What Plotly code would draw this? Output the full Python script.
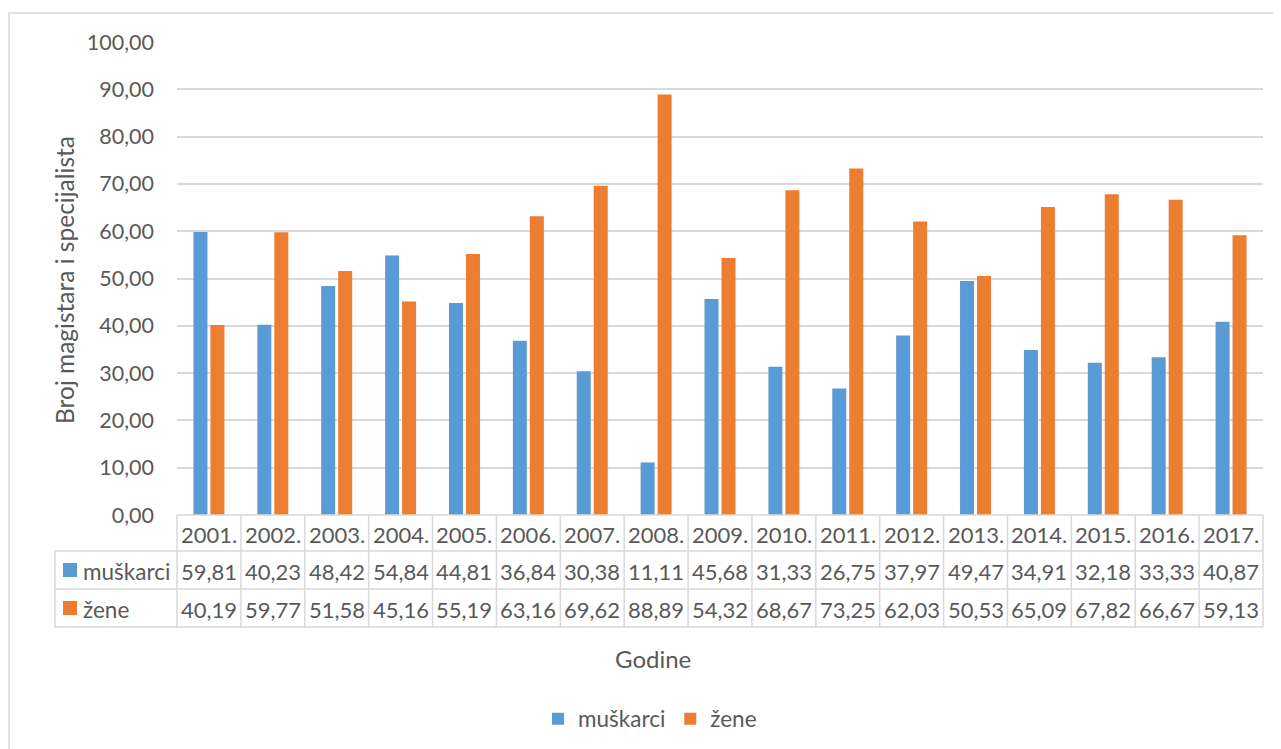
import plotly.graph_objects as go

years = ["2001.", "2002.", "2003.", "2004.", "2005.", "2006.", "2007.", "2008.", "2009.",
         "2010.", "2011.", "2012.", "2013.", "2014.", "2015.", "2016.", "2017."]
muskarci = [59.81, 40.23, 48.42, 54.84, 44.81, 36.84, 30.38, 11.11, 45.68,
            31.33, 26.75, 37.97, 49.47, 34.91, 32.18, 33.33, 40.87]
zene = [40.19, 59.77, 51.58, 45.16, 55.19, 63.16, 69.62, 88.89, 54.32,
        68.67, 73.25, 62.03, 50.53, 65.09, 67.82, 66.67, 59.13]
series_names = ["muškarci", "žene"]
colors = ["#5b9bd5", "#ed7d31"]
y_title = "Broj magistara i specijalista"
x_title = "Godine"

FONT = "Lato"
TXT = "#595959"
GRID = "#d9d9d9"
FS = 22

OFF = 8  # page body margin
W, H = 1273, 741
# screen-pixel targets of the plot area
SX0, SX1, SY0, SY1 = 177, 1263, 42, 515
L = SX0 - OFF
R = W - (SX1 - OFF)
T = SY0 - OFF
B = H - (SY1 - OFF)
pw = W - L - R
ph = H - T - B


def px_x(px):
    return (px - OFF - L) / pw


def px_y(py):
    return (H - B - (py - OFF)) / ph


fig = go.Figure()
for name, vals, col in zip(series_names, [muskarci, zene], colors):
    fig.add_trace(go.Bar(x=list(range(len(years))), y=vals, name=name,
                         marker=dict(color=col, line=dict(width=0))))

shapes = []
annotations = []
line = dict(color=GRID, width=1.5)

row_top, row1, row2, row3 = 515, 551, 589, 627
leg_left = 55
shapes.append(dict(type="line", xref="paper", yref="paper", x0=0, x1=1,
                   y0=px_y(row_top), y1=px_y(row_top), line=line))
for ry in [row1, row2, row3]:
    shapes.append(dict(type="line", xref="paper", yref="paper", x0=px_x(leg_left), x1=1,
                       y0=px_y(ry), y1=px_y(ry), line=line))
shapes.append(dict(type="line", xref="paper", yref="paper", x0=0, x1=0,
                   y0=px_y(row_top), y1=px_y(row3), line=line))
shapes.append(dict(type="line", xref="paper", yref="paper", x0=1, x1=1,
                   y0=px_y(row_top), y1=px_y(row3), line=line))
for i in range(1, len(years)):
    shapes.append(dict(type="line", xref="x", yref="paper", x0=i - 0.5, x1=i - 0.5,
                       y0=px_y(row_top), y1=px_y(row3), line=line))
shapes.append(dict(type="line", xref="paper", yref="paper", x0=px_x(leg_left), x1=px_x(leg_left),
                   y0=px_y(row1), y1=px_y(row3), line=line))

# outer chart border
shapes.append(dict(type="rect", xref="paper", yref="paper",
                   x0=px_x(9), x1=px_x(1280), y0=px_y(770), y1=px_y(13),
                   line=dict(color=GRID, width=1.5), fillcolor="rgba(0,0,0,0)", layer="below"))


def fmt(v):
    return f"{v:.2f}".replace(".", ",")


cy_head = px_y((row_top + row1) / 2 + 1)
cy_r1 = px_y((row1 + row2) / 2 + 1)
cy_r2 = px_y((row2 + row3) / 2 + 1)
tfont = dict(family=FONT, size=FS, color=TXT)
for i, yr in enumerate(years):
    annotations.append(dict(x=i, y=cy_head, xref="x", yref="paper", text=yr, showarrow=False,
                            font=tfont, xanchor="center", yanchor="middle"))
    annotations.append(dict(x=i, y=cy_r1, xref="x", yref="paper", text=fmt(muskarci[i]), showarrow=False,
                            font=tfont, xanchor="center", yanchor="middle"))
    annotations.append(dict(x=i, y=cy_r2, xref="x", yref="paper", text=fmt(zene[i]), showarrow=False,
                            font=tfont, xanchor="center", yanchor="middle"))

for cy, rtop, name, col in [(cy_r1, row1, series_names[0], colors[0]), (cy_r2, row2, series_names[1], colors[1])]:
    mid = rtop + 19
    shapes.append(dict(type="rect", xref="paper", yref="paper", x0=px_x(63), x1=px_x(77),
                       y0=px_y(mid + 7), y1=px_y(mid - 7), fillcolor=col, line=dict(width=0)))
    annotations.append(dict(x=px_x(81), y=cy, xref="paper", yref="paper", text=name, showarrow=False,
                            font=dict(family=FONT, size=22.5, color=TXT), xanchor="left", yanchor="middle"))

annotations.append(dict(x=px_x(64), y=px_y(280), xref="paper", yref="paper", text=y_title,
                        textangle=-90, showarrow=False, font=dict(family=FONT, size=24.5, color=TXT),
                        xanchor="center", yanchor="middle"))
annotations.append(dict(x=px_x(653), y=px_y(658), xref="paper", yref="paper", text=x_title,
                        showarrow=False, font=dict(family=FONT, size=24, color=TXT),
                        xanchor="center", yanchor="middle"))

fig.update_layout(
    width=W, height=H,
    margin=dict(l=L, r=R, t=T, b=B, autoexpand=False),
    paper_bgcolor="white", plot_bgcolor="white",
    separators=", ",
    barmode="group", bargap=0.468, bargroupgap=0.176,
    font=dict(family=FONT, size=FS, color=TXT),
    xaxis=dict(range=[-0.5, len(years) - 0.5], showticklabels=False, showgrid=False,
               zeroline=False, showline=False, fixedrange=True),
    yaxis=dict(range=[0, 100], dtick=10, tickformat=".2f", showgrid=True, gridcolor=GRID,
               gridwidth=1.5, zeroline=False, showline=False, ticks="",
               ticklabelstandoff=22, tickfont=dict(family=FONT, size=21.5, color=TXT)),
    showlegend=True,
    legend=dict(orientation="h", x=px_x(650), y=px_y(719), xanchor="center", yanchor="middle",
                font=dict(family=FONT, size=22.5, color=TXT), itemwidth=30,
                bgcolor="rgba(0,0,0,0)"),
    shapes=shapes,
    annotations=annotations,
)

fig.write_html("out.html")
